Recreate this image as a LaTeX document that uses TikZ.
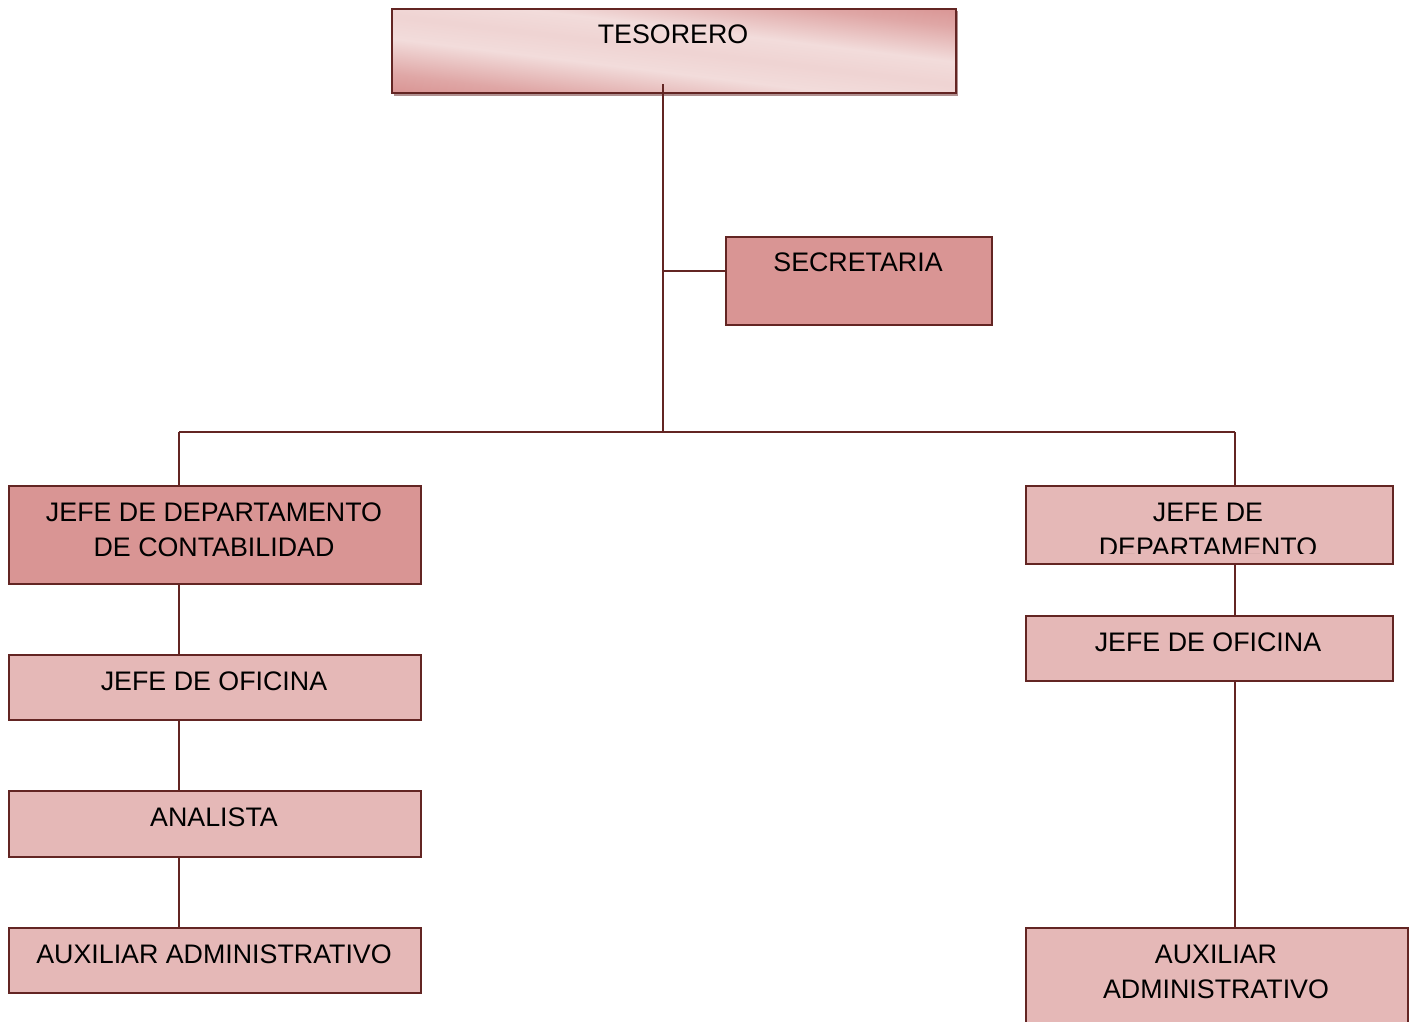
\documentclass[tikz,border=0pt]{standalone}
\usepackage{fontspec}
\setmainfont{Liberation Sans}
\definecolor{brd}{HTML}{632523}
\definecolor{dk}{HTML}{D99594}
\definecolor{lt}{HTML}{E5B8B7}
\definecolor{pl}{HTML}{F2DCDB}
\definecolor{shd}{HTML}{B09090}
\pgfdeclarehorizontalshading{tesshade}{100bp}{
  color(0bp)=(dk); color(25bp)=(dk); color(31bp)=(dk!75!pl); color(42.5bp)=(pl); color(50bp)=(pl!88!dk);
  color(57.5bp)=(pl); color(69bp)=(dk!75!pl); color(75bp)=(dk); color(100bp)=(dk)}
\begin{document}
\begin{tikzpicture}[x=1pt,y=-1pt,
  box/.style={draw=brd,line width=1.6pt,rectangle,inner sep=0pt,anchor=north west},
  lab/.style={font=\fontsize{26.8}{30}\selectfont,anchor=base,inner sep=0pt},
  conn/.style={draw=brd,line width=1.3pt}]
\useasboundingbox (0,0) rectangle (1414,1021);
\clip (0,0) rectangle (1414,1021);
% TESORERO
\fill[shd] (394,11) rectangle (958,96);
\begin{scope}
  \clip (391,8) rectangle (955,92);
  \begin{scope}[transform canvas={shift={(391,92)},rotate=83}]
    \shade[shading=tesshade] (0,-600) rectangle (152,600);
  \end{scope}
\end{scope}
\node[box,minimum width=564pt,minimum height=84pt] (tes) at (391,8) {};
\node[lab] (tesl) at (673,43) {TESORERO};
\coordinate (tesin) at (663,84);
% SECRETARIA
\node[box,fill=dk,minimum width=266pt,minimum height=88pt] (sec) at (725,236) {};
\node[lab] (secl) at (858,271) {SECRETARIA};
\coordinate (secin) at (725,271);
% left column
\node[box,fill=dk,minimum width=412pt,minimum height=98pt] (jd1) at (8,485) {};
\node[lab] (jd1a) at (214,521) {JEFE DE DEPARTAMENTO};
\node[lab] (jd1b) at (214,556) {DE CONTABILIDAD};
\node[box,fill=lt,minimum width=412pt,minimum height=65pt] (jo1) at (8,654) {};
\node[lab] (jo1l) at (214,690) {JEFE DE OFICINA};
\node[box,fill=lt,minimum width=412pt,minimum height=66pt] (an) at (8,790) {};
\node[lab] (anl) at (214,826) {ANALISTA};
\node[box,fill=lt,minimum width=412pt,minimum height=65pt] (ax1) at (8,927) {};
\node[lab] (ax1l) at (214,963) {AUXILIAR ADMINISTRATIVO};
% right column
\node[box,fill=lt,minimum width=367pt,minimum height=78pt] (jd2) at (1025,485) {};
\node[lab] (jd2a) at (1208,521) {JEFE DE};
\begin{scope}
\clip (1030,480) rectangle (1390,553);
\node[lab] (jd2b) at (1208,556) {DEPARTAMENTO};
\end{scope}
\node[box,fill=lt,minimum width=367pt,minimum height=65pt] (jo2) at (1025,615) {};
\node[lab] (jo2l) at (1208,651) {JEFE DE OFICINA};
\node[box,fill=lt,minimum width=382pt,minimum height=110pt] (ax2) at (1025,927) {};
\node[lab] (ax2a) at (1216,963) {AUXILIAR};
\node[lab] (ax2b) at (1216,998) {ADMINISTRATIVO};
% connectors
\coordinate (bar) at (663,432);
\coordinate (barL) at (179,432);
\coordinate (barR) at (1235,432);
\draw[conn] (tesin) -- (bar);
\draw[conn] (tesin |- secin) -- (secin);
\draw[conn] (barL) -- (barR);
\draw[conn] (barL) -- (barL |- jd1.north);
\draw[conn] (barR) -- (barR |- jd2.north);
\draw[conn] (barL |- jd1.south) -- (barL |- jo1.north);
\draw[conn] (barL |- jo1.south) -- (barL |- an.north);
\draw[conn] (barL |- an.south) -- (barL |- ax1.north);
\draw[conn] (barR |- jd2.south) -- (barR |- jo2.north);
\draw[conn] (barR |- jo2.south) -- (barR |- ax2.north);
\end{tikzpicture}
\end{document}
